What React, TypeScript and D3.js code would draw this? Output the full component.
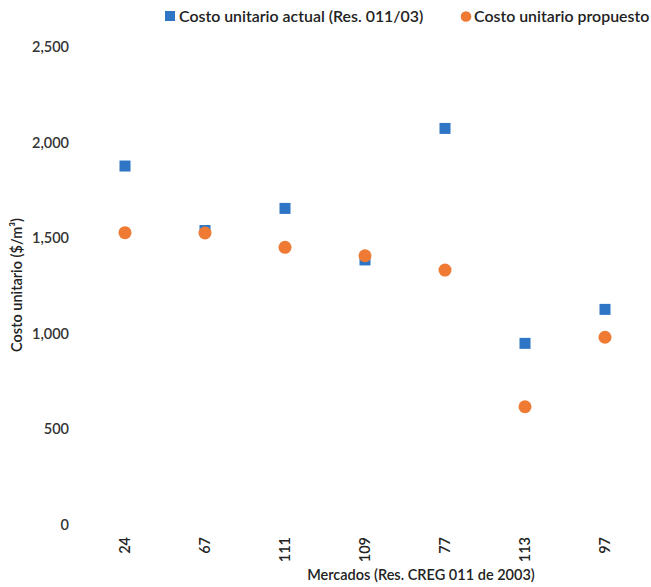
import React from "react";
import * as d3 from "d3";

const categories = ["24", "67", "111", "109", "77", "113", "97"];
const actual = [1878, 1540, 1656, 1386, 2075, 949, 1127];
const proposed = [1529, 1527, 1452, 1408, 1333, 617, 981];
const yTicks = [0, 500, 1000, 1500, 2000, 2500];

const W = 651;
const H = 587;
const BLUE = "#2F75C5";
const ORANGE = "#EE7A33";
const FONT = "Lato, 'Open Sans', sans-serif";

export default function App() {
  const x = d3.scalePoint<string>().domain(categories).range([125, 605]);
  const y = d3.scaleLinear().domain([0, 2500]).range([524.5, 47.3]);
  const fmt = d3.format(",");
  const sq = 11;
  return (
    <svg width={W} height={H} style={{ position: "absolute", left: 0, top: 0, background: "#fff" }} fontFamily={FONT}>
      {/* legend */}
      <rect x={165} y={11} width={10} height={10} fill={BLUE} />
      <text x={179} y={21.5} fontSize={15.9} fontWeight={600} fill="#222">Costo unitario actual (Res. 011/03)</text>
      <circle cx={466} cy={16.5} r={5.3} fill={ORANGE} />
      <text x={474} y={21.5} fontSize={15.9} fontWeight={600} fill="#222">Costo unitario propuesto</text>

      {/* y ticks */}
      {yTicks.map((t) => (
        <text key={t} x={69} y={y(t)} dy="0.35em" textAnchor="end" fontSize={14.5} fontWeight={600} fill="#333">
          {fmt(t)}
        </text>
      ))}
      <text transform={`translate(22,${285}) rotate(-90)`} textAnchor="middle" fontSize={14.5} fontWeight={600} fill="#222">
        Costo unitario ($/m³)
      </text>

      {/* x ticks */}
      {categories.map((c) => (
        <text key={c} transform={`translate(${x(c)! + 5},537) rotate(-90)`} textAnchor="end" fontSize={14.5} fontWeight={600} fill="#222">
          {c}
        </text>
      ))}
      <text x={421} y={580} textAnchor="middle" fontSize={14.5} fontWeight={600} fill="#222">
        Mercados (Res. CREG 011 de 2003)
      </text>

      {/* markers */}
      {categories.map((c, i) => (
        <rect key={"a" + c} x={x(c)! - sq / 2} y={y(actual[i]) - sq / 2} width={sq} height={sq} fill={BLUE} />
      ))}
      {categories.map((c, i) => (
        <circle key={"p" + c} cx={x(c)!} cy={y(proposed[i])} r={6.5} fill={ORANGE} />
      ))}
    </svg>
  );
}
